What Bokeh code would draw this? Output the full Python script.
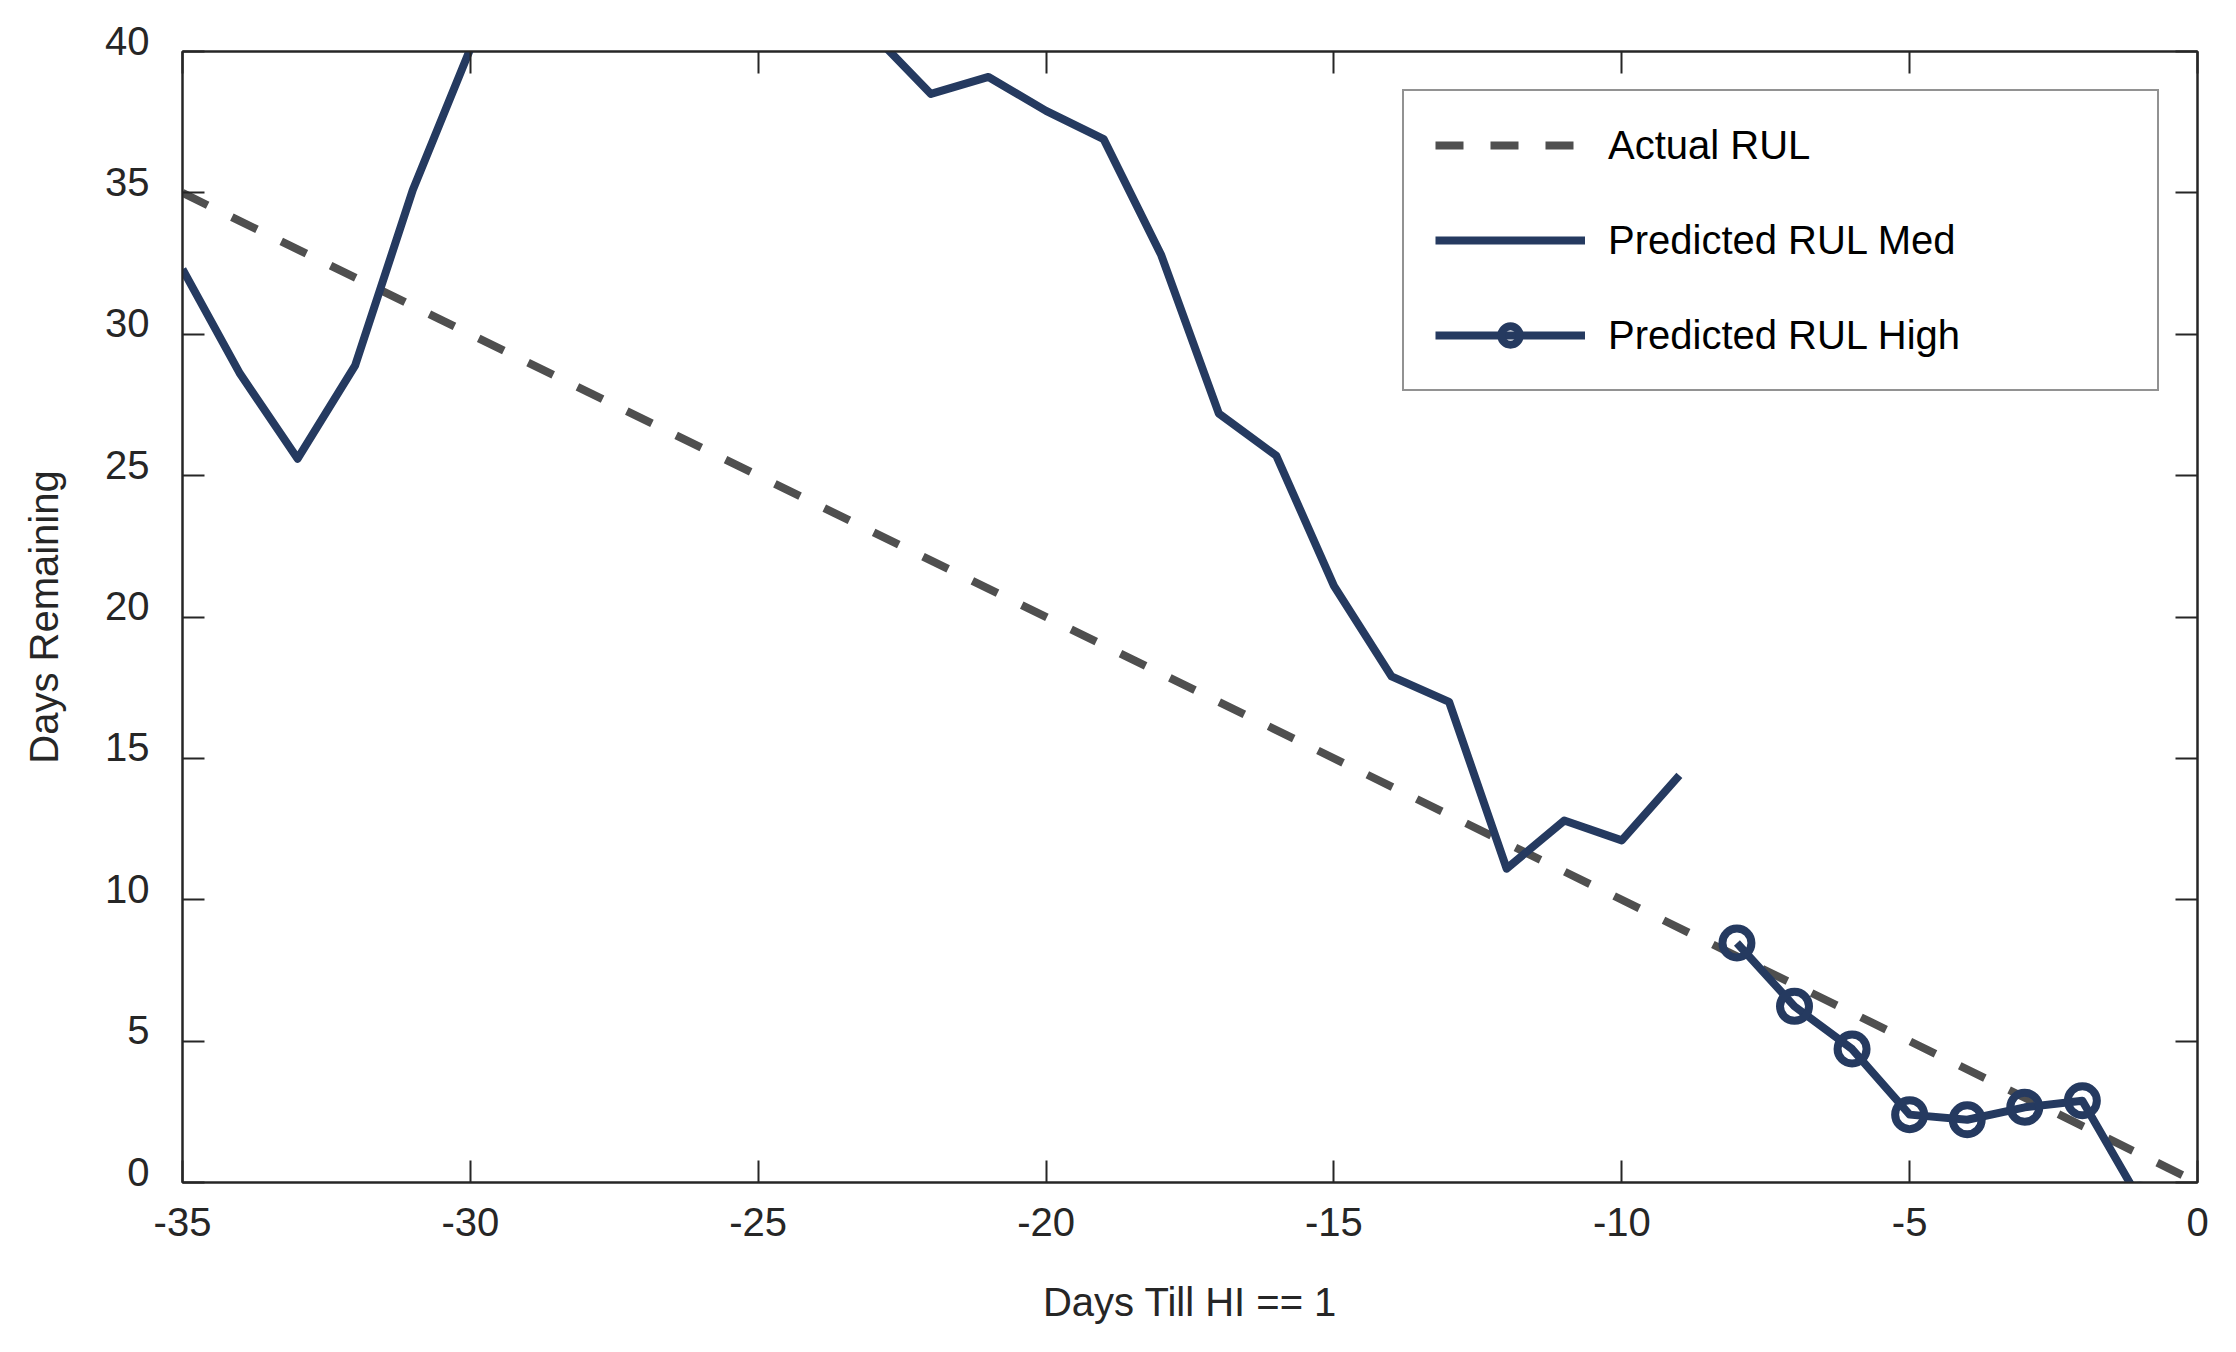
from bokeh.plotting import figure
from bokeh.models import LinearAxis, SingleIntervalTicker, Range1d, Legend, LegendItem, CustomJSTickFormatter
from bokeh.embed import file_html
from bokeh.resources import INLINE

# ---- data ----
actual_x = [-35, 0]
actual_rul = [35, 0]

med_x = list(range(-35, -8))  # -35 .. -9
med_rul = [32.3, 28.6, 25.6, 28.9, 35.1, 40.1, 42.8, 44.6, 45.9, 45.2, 43.8, 42.4, 40.6,
           38.5, 39.1, 37.9, 36.9, 32.8, 27.2, 25.7, 21.1, 17.9, 17.0, 11.1, 12.8, 12.1, 14.4]

high_x = list(range(-8, 0))  # -8 .. -1
high_rul = [8.47, 6.23, 4.72, 2.40, 2.22, 2.66, 2.89, -0.63]

x_ticks_interval = 5
y_ticks_interval = 5

NAVY = "#253a60"
GRAY = "#4f4f4f"
AXIS = "#262626"
FONT = "Liberation Sans"
FS = "40px"

p = figure(width=2220, height=1336, output_backend="svg", toolbar_location=None,
           x_range=Range1d(-35, 0), y_range=Range1d(0, 40),
           min_border_left=182, min_border_right=23, min_border_top=51, min_border_bottom=154,
           background_fill_color="white", border_fill_color="white")
p.xgrid.visible = False
p.ygrid.visible = False
p.outline_line_color = AXIS
p.outline_line_width = 2

hyphen = CustomJSTickFormatter(code="return tick.toFixed(0)")
# y labels sit just above their tick (first line of a two-line box)
hyphen_y = CustomJSTickFormatter(code="return tick.toFixed(0) + '\\n'")

# main axes
xa = p.xaxis[0]
ya = p.yaxis[0]
xa.ticker = SingleIntervalTicker(interval=x_ticks_interval)
ya.ticker = SingleIntervalTicker(interval=y_ticks_interval)
for ax in (xa, ya):
    ax.major_tick_in = 22
    ax.major_tick_out = 0
    ax.minor_tick_line_color = None
    ax.major_tick_line_color = AXIS
    ax.major_tick_line_width = 2
    ax.axis_line_color = AXIS
    ax.axis_line_width = 2
    ax.major_label_text_font = FONT
    ax.major_label_text_font_size = FS
    ax.major_label_text_color = AXIS
    ax.axis_label_text_font = FONT
    ax.axis_label_text_font_size = FS
    ax.axis_label_text_font_style = "normal"
    ax.axis_label_text_color = AXIS
xa.formatter = hyphen
ya.formatter = hyphen_y
ya.major_label_text_line_height = 0.5

xa.axis_label = "Days Till HI == 1"
ya.axis_label = "Days Remaining"
xa.major_label_standoff = 21
xa.axis_label_standoff = 41
ya.major_label_standoff = 29
ya.axis_label_standoff = 36

# mirrored tick axes (top and right), ticks only
blank = CustomJSTickFormatter(code="return ''")
for loc, interval in (("above", x_ticks_interval), ("right", y_ticks_interval)):
    ax = LinearAxis(ticker=SingleIntervalTicker(interval=interval), formatter=blank)
    ax.major_tick_in = 22
    ax.major_tick_out = 0
    ax.minor_tick_line_color = None
    ax.major_tick_line_color = AXIS
    ax.major_tick_line_width = 2
    ax.axis_line_color = AXIS
    ax.axis_line_width = 2
    ax.major_label_standoff = 0
    p.add_layout(ax, loc)

# series
r_act = p.line(actual_x, actual_rul, line_color=GRAY, line_width=8, line_dash="28 27")
r_med = p.line(med_x, med_rul, line_color=NAVY, line_width=8, line_join="round")
r_high_l = p.line(high_x, high_rul, line_color=NAVY, line_width=8, line_join="round")
r_high_m = p.scatter(high_x, high_rul, marker="circle", size=29, fill_color=None,
                     line_color=NAVY, line_width=8)

legend = Legend(items=[
    LegendItem(label="Actual RUL", renderers=[r_act]),
    LegendItem(label="Predicted RUL Med", renderers=[r_med]),
    LegendItem(label="Predicted RUL High", renderers=[r_high_l, r_high_m]),
], location="top_right", margin=38, padding=31, spacing=49,
    glyph_width=150, glyph_height=46, label_height=46, label_width=518, label_standoff=23,
    label_text_font=FONT, label_text_font_size=FS, label_text_color="#000000",
    border_line_color=AXIS, border_line_width=2, background_fill_color="white",
    background_fill_alpha=1.0)
p.add_layout(legend)

open("out.html", "w").write(file_html(p, INLINE))
